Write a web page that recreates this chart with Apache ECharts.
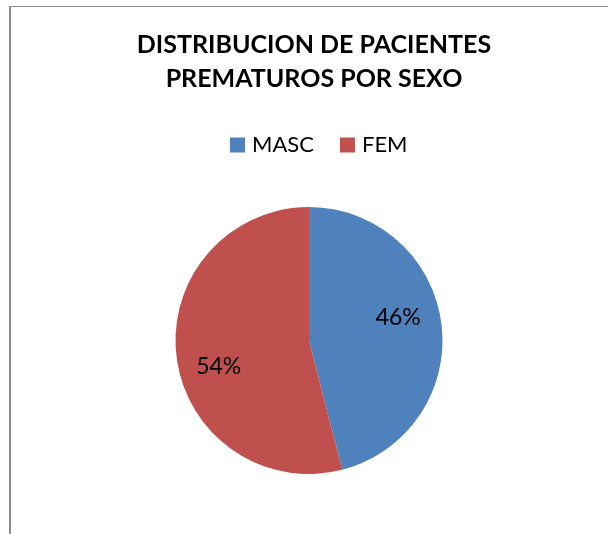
<!DOCTYPE html>
<html>
<head>
<meta charset="utf-8">
<script src="https://cdn.jsdelivr.net/npm/echarts@6/dist/echarts.min.js"></script>
<style>
  html, body { margin: 0; padding: 0; background: #fff; }
  #chart { width: 608px; height: 534px; }
</style>
</head>
<body>
<div id="chart"></div>
<script>
// Data
const categories = ['MASC', 'FEM'];
const values = [46, 54];
const colors = ['#4F81BD', '#C0504D'];
const titleLines = ['DISTRIBUCION DE PACIENTES', 'PREMATUROS POR SEXO'];

const font = 'Lato, "Open Sans", sans-serif';
const center = [309, 340.5];
const labelShift = [[-5, -11], [4, 14]]; // Excel-like label placement nudges

const pieData = categories.map((name, i) => ({ name, value: values[i] }));

const chart = echarts.init(document.getElementById('chart'), null, { renderer: 'canvas' });
chart.setOption({
  animation: false,
  backgroundColor: '#fff',
  color: colors,
  title: {
    text: titleLines.join('\n'),
    left: 314,
    top: 28,
    padding: 0,
    textAlign: 'center',
    textStyle: { fontFamily: font, fontWeight: 'bold', fontSize: 25, lineHeight: 34, color: '#000' }
  },
  legend: {
    data: categories,
    left: 230,
    top: 134,
    padding: 0,
    itemWidth: 15,
    itemHeight: 15,
    itemGap: 26,
    icon: 'rect',
    textStyle: { fontFamily: font, fontSize: 22, color: '#000', padding: [0, 0, 0, 2] }
  },
  graphic: [
    { type: 'line', shape: { x1: 10, y1: 6.5, x2: 620, y2: 6.5 }, style: { stroke: '#8c8c8c', lineWidth: 1 }, silent: true },
    { type: 'line', shape: { x1: 10, y1: 6, x2: 10, y2: 540 }, style: { stroke: '#8c8c8c', lineWidth: 2 }, silent: true }
  ],
  series: [
    {
      type: 'pie',
      center,
      radius: 133.5,
      startAngle: 90,
      clockwise: true,
      silent: true,
      label: { show: false },
      labelLine: { show: false },
      itemStyle: { borderWidth: 0 },
      data: pieData
    },
    {
      // invisible copy, only to place the percentage labels further out
      type: 'pie',
      center,
      radius: 184,
      startAngle: 90,
      clockwise: true,
      silent: true,
      legendHoverLink: false,
      itemStyle: { color: 'transparent', borderWidth: 0 },
      label: {
        show: true,
        position: 'inside',
        formatter: (p) => p.value + '%',
        fontFamily: font,
        fontSize: 23,
        color: '#000'
      },
      labelLine: { show: false },
      labelLayout: (p) => ({ dx: labelShift[p.dataIndex][0], dy: labelShift[p.dataIndex][1] }),
      data: pieData
    }
  ]
});
</script>
</body>
</html>
